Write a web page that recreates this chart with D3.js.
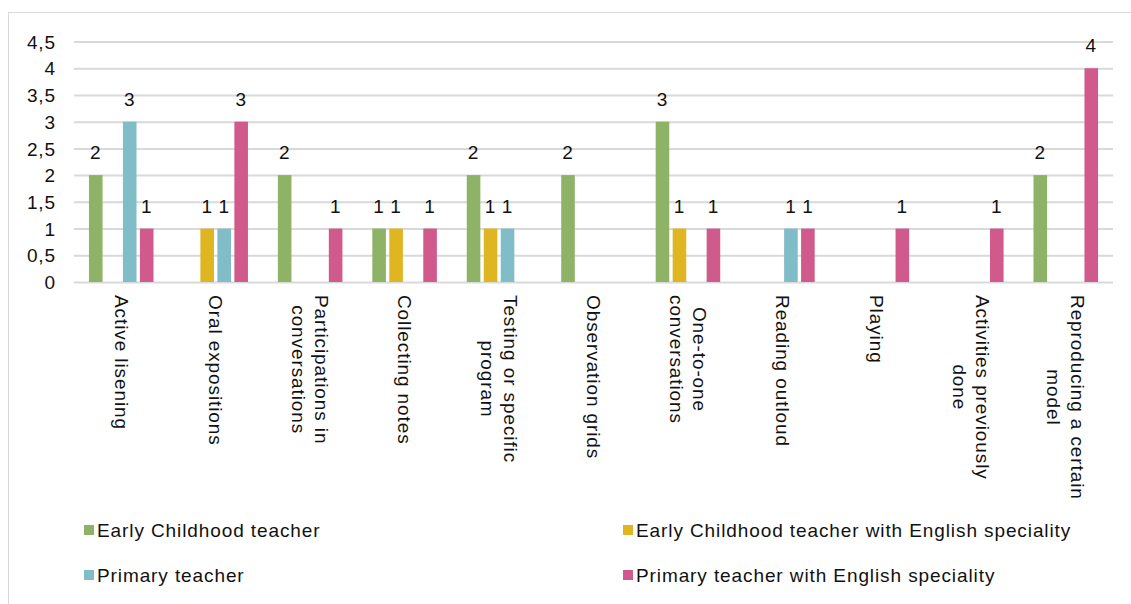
<!DOCTYPE html>
<html>
<head>
<meta charset="utf-8">
<script src="https://cdn.jsdelivr.net/npm/d3@7"></script>
<style>
  body { margin: 0; background: #fff; }
  svg text { font-family: "Liberation Sans", Arial, sans-serif; font-size: 19px; letter-spacing: 0.9px; fill: #111; }
</style>
</head>
<body>
<svg id="chart"></svg>
<script>
const W = 1131;
const H = 604;

// 카테고리 (줄바꿈은 배열로)
const categories = [
  ["Active lisening"],
  ["Oral expositions"],
  ["Participations in", "conversations"],
  ["Collecting notes"],
  ["Testing or specific", "program"],
  ["Observation grids"],
  ["One-to-one", "conversations"],
  ["Reading outloud"],
  ["Playing"],
  ["Activities previously", "done"],
  ["Reproducing a certain", "model"]
];

const seriesNames = [
  "Early Childhood teacher",
  "Early Childhood teacher with English speciality",
  "Primary teacher",
  "Primary teacher with English speciality"
];
const seriesColors = ["#8eb366", "#dfb521", "#81bcc9", "#d15a8c"];

// null = 값 없음 (막대/라벨 안 그림)
const earlyChildhood     = [2, null, 2, 1, 2, 2, 3, null, null, null, 2];
const earlyChildhoodEng  = [null, 1, null, 1, 1, null, 1, null, null, null, null];
const primary            = [3, 1, null, null, 1, null, null, 1, null, null, null];
const primaryEng         = [1, 3, 1, 1, null, null, 1, 1, 1, 1, 4];
const seriesValues = [earlyChildhood, earlyChildhoodEng, primary, primaryEng];

const yTicks = [0, 0.5, 1, 1.5, 2, 2.5, 3, 3.5, 4, 4.5];

const plot = { left: 74, right: 1113, top: 41.5, bottom: 282 };

const svg = d3.select("#chart").attr("width", W).attr("height", H);

// 바깥 테두리
svg.append("rect")
  .attr("x", 8.5).attr("y", 12.5)
  .attr("width", 1130).attr("height", 600)
  .attr("fill", "none").attr("stroke", "#d9d9d9");

const x0 = d3.scaleBand()
  .domain(d3.range(categories.length))
  .range([plot.left, plot.right])
  .padding(0);

const x1 = d3.scaleBand()
  .domain(d3.range(seriesNames.length))
  .range([0, x0.bandwidth()])
  .paddingInner(0.2)
  .paddingOuter(0.88);

const y = d3.scaleLinear().domain([0, 4.5]).range([plot.bottom, plot.top]);

/* 그리드 + y축 */
const yAxis = d3.axisLeft(y)
  .tickValues(yTicks)
  .tickSize(-(plot.right - plot.left))
  .tickPadding(18)
  .tickFormat(d => String(d).replace(".", ","));

const gy = svg.append("g")
  .attr("transform", `translate(${plot.left},0)`)
  .call(yAxis);
gy.select(".domain").remove();
gy.selectAll(".tick line").attr("stroke", "#d9d9d9").attr("stroke-width", 2);
gy.selectAll(".tick text")
  .attr("fill", "#111")
  .style("font-size", "19px")
  .style("font-family", "Liberation Sans, Arial, sans-serif")
  .attr("dy", "0.35em");

/* 막대 */
const rows = [];
seriesValues.forEach((vals, s) => {
  vals.forEach((v, c) => { if (v != null) rows.push({ s, c, v }); });
});

svg.append("g").selectAll("rect")
  .data(rows)
  .enter()
  .append("rect")
  .attr("x", d => x0(d.c) + x1(d.s))
  .attr("y", d => y(d.v))
  .attr("width", x1.bandwidth())
  .attr("height", d => y(0) - y(d.v))
  .attr("fill", d => seriesColors[d.s]);

/* 값 라벨 */
svg.append("g").selectAll("text")
  .data(rows)
  .enter()
  .append("text")
  .attr("x", d => x0(d.c) + x1(d.s) + x1.bandwidth() / 2)
  .attr("y", d => y(d.v) - 16)
  .attr("text-anchor", "middle")
  .text(d => d.v);

/* 카테고리 라벨 (90도 회전, 여러 줄 가운데 정렬) */
const lineH = 23.5;
const catG = svg.append("g");
categories.forEach((lines, i) => {
  const cx = x0(i) + x0.bandwidth() / 2;
  const t = catG.append("text")
    .attr("text-anchor", "middle");
  lines.forEach((ln, k) => {
    t.append("tspan")
      .attr("x", 0)
      .attr("y", (k - (lines.length - 1) / 2) * lineH)
      .attr("dy", "0.35em")
      .text(ln);
  });
  // 가장 긴 줄 길이 기준으로 위쪽 정렬
  let maxLen = 0;
  t.selectAll("tspan").each(function () {
    maxLen = Math.max(maxLen, this.getComputedTextLength());
  });
  t.attr("transform", `translate(${cx},${295 + maxLen / 2}) rotate(90)`);
});

/* 범례 */
const legendPos = [
  { x: 84, y: 530 }, { x: 623, y: 530 },
  { x: 84, y: 575 }, { x: 623, y: 575 }
];
const lg = svg.append("g").selectAll("g")
  .data(seriesNames)
  .enter()
  .append("g")
  .attr("transform", (d, i) => `translate(${legendPos[i].x},${legendPos[i].y})`);

lg.append("rect")
  .attr("x", 0).attr("y", -5)
  .attr("width", 10).attr("height", 10)
  .attr("fill", (d, i) => seriesColors[i]);

lg.append("text")
  .attr("x", 13)
  .attr("y", 0)
  .attr("dy", "0.35em")
  .text(d => d);
</script>
</body>
</html>
